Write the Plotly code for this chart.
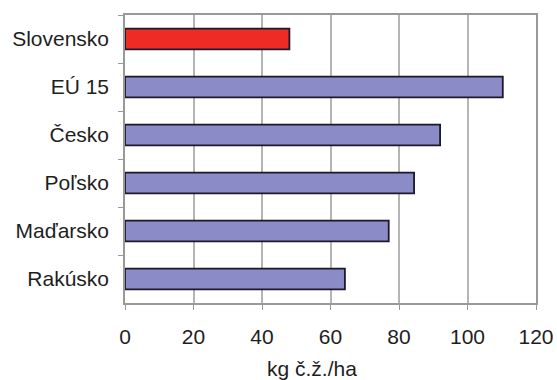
import plotly.graph_objects as go

categories = ["Slovensko", "EÚ 15", "Česko", "Poľsko", "Maďarsko", "Rakúsko"]
values = [48.0, 110.3, 92.0, 84.4, 77.0, 64.2]
bar_colors = ["#EE2B25", "#8B8BC8", "#8B8BC8", "#8B8BC8", "#8B8BC8", "#8B8BC8"]
x_ticks = [0, 20, 40, 60, 80, 100, 120]
x_title = "kg č.ž./ha"

font_family = "Liberation Sans, Arial, sans-serif"

fig = go.Figure(go.Bar(
    x=values, y=categories, orientation="h",
    marker=dict(color=bar_colors, line=dict(color="#1a1a2a", width=1.8)),
    width=0.43,
))

fig.update_layout(
    width=557, height=380,
    margin=dict(l=125, r=21, t=15, b=77),
    paper_bgcolor="white", plot_bgcolor="white",
    font=dict(family=font_family, size=21, color="#1e1e1e"),
    showlegend=False,
    xaxis=dict(
        range=[0, 120], tickvals=x_ticks, showgrid=True,
        gridcolor="#B5B5B5", gridwidth=1.5,
        showline=True, linecolor="#999999", linewidth=1.5, mirror=True,
        ticks="outside", ticklen=5, tickcolor="#999999",
        ticklabelstandoff=9, zeroline=False, automargin=False,
    ),
    yaxis=dict(
        categoryorder="array", categoryarray=categories, autorange="reversed",
        showline=True, linecolor="#999999", linewidth=1.5, mirror=True,
        ticks="outside", ticklen=5, tickcolor="#999999", tickson="boundaries",
        ticklabelstandoff=10, showgrid=False, automargin=False,
    ),
    annotations=[dict(
        text=x_title, xref="paper", yref="paper",
        x=(312 - 125) / (536 - 125), y=-(368 - 303) / (303 - 15),
        xanchor="center", yanchor="middle", showarrow=False,
        font=dict(family=font_family, size=21, color="#1e1e1e"),
    )],
)

fig.write_html(
    "out.html",
    config={"displayModeBar": False},
    post_script="document.body.style.margin='0';document.body.style.overflow='hidden';",
)
